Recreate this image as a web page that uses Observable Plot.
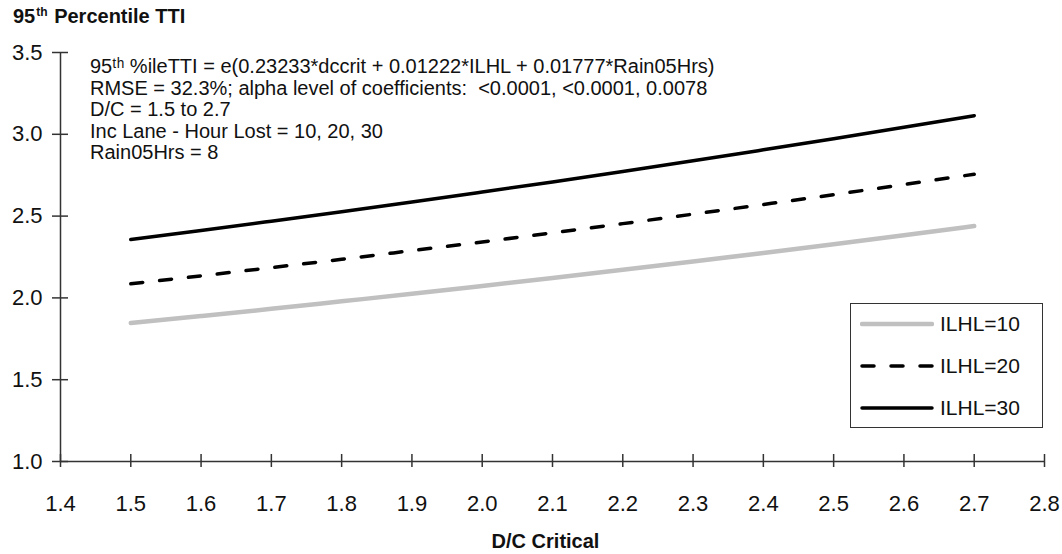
<!DOCTYPE html>
<html>
<head>
<meta charset="utf-8">
<script src="https://cdn.jsdelivr.net/npm/d3@7"></script>
<script src="https://cdn.jsdelivr.net/npm/@observablehq/plot@0.6"></script>
<style>
  body { margin: 0; background: #fff; }
  #wrap { position: relative; width: 1062px; height: 554px; overflow: hidden; font-family: "Liberation Sans", Arial, sans-serif; color: #111; }
  #title { position: absolute; left: 13px; top: 4px; font-weight: bold; font-size: 20px; line-height: 24px; white-space: nowrap; }
  #title sup { font-size: 0.6em; vertical-align: 0.55em; line-height: 0; padding: 0 1px; }
  #chart { position: absolute; left: 0; top: 32px; }
  #note { position: absolute; left: 90px; top: 56px; font-size: 20px; line-height: 21.5px; white-space: pre; }
  #legend { position: absolute; left: 850px; top: 303px; width: 191px; height: 123px; border: 1.5px solid #333; background: #fff; }
  .row { position: absolute; left: 0; height: 24px; display: flex; align-items: center; }
  .row svg { margin-left: 9px; }
  .row span { margin-left: 6px; font-size: 21px; }
</style>
</head>
<body>
<div id="wrap">
  <div id="title">95<sup>th</sup> Percentile TTI</div>
  <div id="chart"></div>
  <div id="note"></div>
  <div id="legend"></div>
</div>
<script>
// D/C critical values
const dcCrit = [1.5, 1.6, 1.7, 1.8, 1.9, 2.0, 2.1, 2.2, 2.3, 2.4, 2.5, 2.6, 2.7];
// 95th percentile TTI for each incident lane-hour lost level
const tti10 = [1.846, 1.889, 1.933, 1.979, 2.025, 2.073, 2.122, 2.172, 2.223, 2.275, 2.328, 2.383, 2.439];
const tti20 = [2.086, 2.135, 2.185, 2.236, 2.289, 2.342, 2.398, 2.454, 2.512, 2.571, 2.631, 2.693, 2.756];
const tti30 = [2.357, 2.412, 2.469, 2.527, 2.586, 2.647, 2.709, 2.773, 2.838, 2.905, 2.973, 3.043, 3.114];
const seriesNames = ["ILHL=10", "ILHL=20", "ILHL=30"];
const xTicks = [1.4, 1.5, 1.6, 1.7, 1.8, 1.9, 2.0, 2.1, 2.2, 2.3, 2.4, 2.5, 2.6, 2.7, 2.8];
const yTicks = [1.0, 1.5, 2.0, 2.5, 3.0, 3.5];
const noteLines = [
  "95\u1D57\u02B0 %ileTTI = e(0.23233*dccrit + 0.01222*ILHL + 0.01777*Rain05Hrs)",
  "RMSE = 32.3%; alpha level of coefficients:  <0.0001, <0.0001, 0.0078",
  "D/C = 1.5 to 2.7",
  "Inc Lane - Hour Lost = 10, 20, 30",
  "Rain05Hrs = 8"
];

const styles = [
  {stroke: "#c0c0c0", strokeWidth: 4.5, dash: null},
  {stroke: "#000", strokeWidth: 3.5, dash: "12,17"},
  {stroke: "#000", strokeWidth: 3.5, dash: null}
];
const series = [tti10, tti20, tti30];
const data = series.map((vals, i) => dcCrit.map((x, j) => ({x, y: vals[j], s: seriesNames[i]})));

const font = '"Liberation Sans", Arial, sans-serif';
const blank = () => "";

const chart = Plot.plot({
  width: 1062,
  height: 522,
  marginTop: 20,
  marginBottom: 93,
  marginLeft: 60,
  marginRight: 18,
  style: {fontFamily: font, fontSize: "22px", color: "#111", background: "transparent"},
  x: {domain: [1.4, 2.8], label: null},
  y: {domain: [1.0, 3.5], label: null},
  marks: [
    Plot.ruleX([xTicks[0]], {stroke: "#333", strokeWidth: 1.5}),
    Plot.ruleY([yTicks[0]], {stroke: "#333", strokeWidth: 1.5}),
    Plot.axisY({ticks: yTicks, tickFormat: blank, tickSize: 16, dx: 8, stroke: "#333", strokeWidth: 1.5, label: null}),
    Plot.axisY({ticks: yTicks, tickFormat: d3.format(".1f"), tickSize: 0, tickPadding: 18, fill: "#111", label: null}),
    Plot.axisX({ticks: xTicks, tickFormat: blank, tickSize: 13, dy: -7, stroke: "#333", strokeWidth: 1.5, label: null}),
    Plot.axisX({ticks: xTicks, tickFormat: d3.format(".1f"), tickSize: 0, tickPadding: 34, fill: "#111", label: null}),
    ...data.map((d, i) => Plot.line(d, {
      x: "x", y: "y",
      stroke: styles[i].stroke,
      strokeWidth: styles[i].strokeWidth,
      strokeDasharray: styles[i].dash,
      strokeLinecap: "round",
      curve: "monotone-x"
    })),
    Plot.text(["D/C Critical"], {frameAnchor: "bottom", dy: 86, dx: -7, fontWeight: "bold", fontSize: 20, fill: "#111"})
  ]
});
document.getElementById("chart").appendChild(chart);

document.getElementById("note").textContent = noteLines.join("\n");

const legend = document.getElementById("legend");
seriesNames.forEach((name, i) => {
  const row = document.createElement("div");
  row.className = "row";
  row.style.top = (8 + i * 42) + "px";
  const st = styles[i];
  row.innerHTML = `<svg width="74" height="10"><line x1="2" x2="72" y1="5" y2="5" stroke="${st.stroke}" stroke-width="${st.strokeWidth}" stroke-linecap="round" ${st.dash ? `stroke-dasharray="${st.dash}"` : ""}/></svg><span>${name}</span>`;
  legend.appendChild(row);
});
</script>
</body>
</html>
